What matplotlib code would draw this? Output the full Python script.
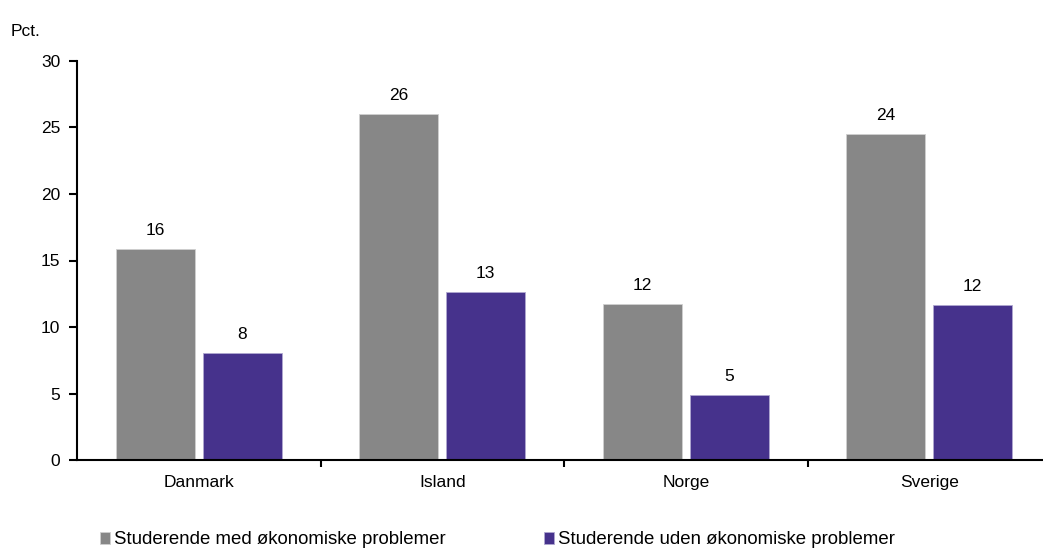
import numpy as np
import matplotlib.pyplot as plt

plt.rcParams['font.family'] = ['Liberation Sans', 'DejaVu Sans']

categories = ['Danmark', 'Island', 'Norge', 'Sverige']
med_problemer = [15.85, 26.0, 11.75, 24.5]
uden_problemer = [8.05, 12.6, 4.9, 11.65]
series_names = ['Studerende med økonomiske problemer', 'Studerende uden økonomiske problemer']
colors = ['#878787', '#46328C']

fig = plt.figure(figsize=(10.43, 5.5), dpi=100)
ax = fig.add_axes([77 / 1043, 90 / 550, 974 / 1043, 399 / 550])

x = np.arange(len(categories))
w = 0.325
off = 0.178
b1 = ax.bar(x - off, med_problemer, w, color=colors[0], edgecolor='#d0d0d0', linewidth=0.6, label=series_names[0])
b2 = ax.bar(x + off, uden_problemer, w, color=colors[1], edgecolor='#b0a8d0', linewidth=0.6, label=series_names[1])

for bars, vals in ((b1, med_problemer), (b2, uden_problemer)):
    for rect, v in zip(bars, vals):
        ax.annotate(f'{v:.0f}', (rect.get_x() + rect.get_width() / 2, v),
                    xytext=(0, 8), textcoords='offset points', ha='center', va='bottom', fontsize=12.5)

ax.set_xlim(-0.5, 3.5)
ax.set_ylim(0, 30)
ax.set_yticks([0, 5, 10, 15, 20, 25, 30])
ax.set_xticks(x)
ax.set_xticklabels(categories)
ax.set_xticks([0.5, 1.5, 2.5], minor=True)
ax.tick_params(axis='x', which='major', length=0, pad=11, labelsize=12.5)
ax.tick_params(axis='x', which='minor', length=5, width=1.5, direction='out')
ax.tick_params(axis='y', length=6, width=1.5, direction='out', pad=6, labelsize=12.5)

for s in ('top', 'right'):
    ax.spines[s].set_visible(False)
ax.spines['left'].set_linewidth(1.5)
ax.spines['bottom'].set_linewidth(1.5)

fig.text(11 / 1043, 1 - 31 / 550, 'Pct.', fontsize=12.5, va='center', ha='left')

fig.legend(handles=[b1, b2], labels=series_names, loc='center left',
           bbox_to_anchor=(100 / 1043, 1 - 540 / 550), ncol=2, frameon=False,
           fontsize=13.4, handlelength=0.55, handleheight=0.55, handletextpad=0.2,
           columnspacing=5.3, borderaxespad=0, borderpad=0)

fig.savefig('out.png', dpi=100)
